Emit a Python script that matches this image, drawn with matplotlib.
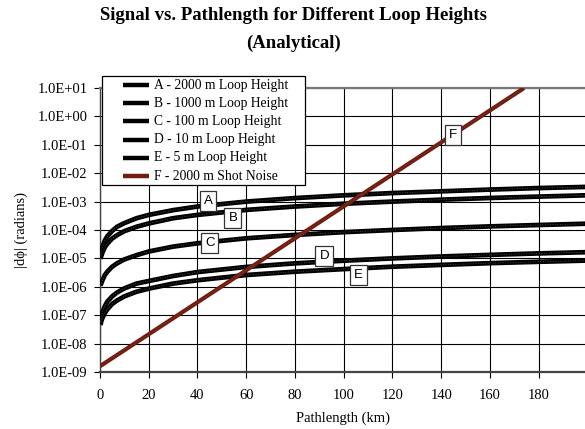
import matplotlib
matplotlib.use("Agg")
import matplotlib.pyplot as plt
from matplotlib.patches import Rectangle
from matplotlib.lines import Line2D
from matplotlib.ticker import FixedLocator, FuncFormatter, NullLocator

# pathlength (km) sample points
path_km = [0.2, 0.5, 1, 2, 3, 5, 7, 10, 15, 20, 30, 40, 60, 80, 100, 120, 140, 160, 180, 200]

loop_a = [1.3e-5, 1.8e-5, 2.6e-5, 4.3e-5, 6.0e-5, 9.3e-5, 1.3e-4, 1.75e-4, 2.6e-4, 3.4e-4,
          5.0e-4, 6.7e-4, 1.0e-3, 1.33e-3, 1.66e-3, 2.0e-3, 2.3e-3, 2.65e-3, 3.0e-3, 3.3e-3]
loop_b = [9.7e-6, 1.2e-5, 1.6e-5, 2.5e-5, 3.3e-5, 5.0e-5, 6.6e-5, 9.1e-5, 1.3e-4, 1.7e-4,
          2.6e-4, 3.4e-4, 5.1e-4, 6.7e-4, 8.4e-4, 1.0e-3, 1.17e-3, 1.34e-3, 1.5e-3, 1.67e-3]
loop_c = [1.1e-6, 1.3e-6, 1.7e-6, 2.6e-6, 3.4e-6, 5.1e-6, 6.7e-6, 9.2e-6, 1.3e-5, 1.75e-5,
          2.6e-5, 3.4e-5, 5.1e-5, 6.7e-5, 8.4e-5, 1.0e-4, 1.17e-4, 1.34e-4, 1.5e-4, 1.67e-4]
loop_d = [6.0e-8, 8.5e-8, 1.3e-7, 2.1e-7, 3.0e-7, 4.6e-7, 6.3e-7, 8.8e-7, 1.3e-6, 1.6e-6,
          2.4e-6, 3.3e-6, 5.0e-6, 6.7e-6, 8.3e-6, 1.0e-5, 1.17e-5, 1.33e-5, 1.5e-5, 1.66e-5]
loop_e = [4.5e-8, 6.0e-8, 8.0e-8, 1.2e-7, 1.6e-7, 2.5e-7, 3.3e-7, 4.6e-7, 6.7e-7, 8.6e-7,
          1.3e-6, 1.7e-6, 2.6e-6, 3.4e-6, 4.2e-6, 5.1e-6, 5.9e-6, 6.8e-6, 7.6e-6, 8.4e-6]

shot_km = [0, 174]
shot_noise = [1.6e-9, 1.0e1]

labels = ["A - 2000 m Loop Height", "B - 1000 m Loop Height", "C - 100 m Loop Height",
          "D - 10 m Loop Height", "E - 5 m Loop Height", "F - 2000 m Shot Noise"]

# tag boxes (letter, x km, y)
tags = [("A", 44.3, 1.05e-3), ("B", 54.5, 2.6e-4), ("C", 45, 3.5e-5),
        ("D", 92, 1.2e-5), ("E", 106, 2.6e-6), ("F", 145, 0.22)]

xticks = [0, 20, 40, 60, 80, 100, 120, 140, 160, 180]
yticks = [1e-9, 1e-8, 1e-7, 1e-6, 1e-5, 1e-4, 1e-3, 1e-2, 1e-1, 1e0, 1e1]

plt.rcParams["font.family"] = ["Liberation Serif", "DejaVu Serif"]

W, H = 585, 429
fig = plt.figure(figsize=(W / 100, H / 100), dpi=100)
ax = fig.add_axes([100 / W, 57 / H, 485 / W, 284 / H])

black = "#000000"
brown = "#701c10"
series = [loop_a, loop_b, loop_c, loop_d, loop_e]

for ys in series:
    ax.plot(path_km, ys, color=black, lw=3.4, solid_capstyle="butt", zorder=3)
    ax.plot(path_km, ys, color="#5a5a5a", lw=0.6, ls=(0, (1, 2)), zorder=3.1)
ax.plot(shot_km, shot_noise, color=brown, lw=3.0, solid_capstyle="butt", zorder=3)
ax.plot(shot_km, shot_noise, color="#944535", lw=0.5, ls=(0, (1, 2)), zorder=3.1)

for letter, tx, ty in tags:
    ax.text(tx, ty, letter, fontsize=9.5, family=["Liberation Sans", "DejaVu Sans"],
            ha="center", va="center", zorder=5,
            bbox=dict(boxstyle="square,pad=0.3", fc="white", ec="#333333", lw=0.9))

ax.set_yscale("log")
ax.set_xlim(0, 199)
ax.set_ylim(1e-9, 1e1)
ax.xaxis.set_major_locator(FixedLocator(xticks))
ax.yaxis.set_major_locator(FixedLocator(yticks))
ax.yaxis.set_minor_locator(NullLocator())
ax.yaxis.set_major_formatter(FuncFormatter(lambda v, p: f"{v:.1E}"))
ax.grid(True, color=black, lw=0.8)
ax.set_axisbelow(True)
ax.tick_params(direction="out", length=4, width=0.8, labelsize=10.5)
ax.tick_params(axis="x", pad=8)
ax.tick_params(axis="y", pad=5)

ax.spines["right"].set_visible(False)
ax.spines["top"].set_color("#777777")
ax.spines["left"].set_color("#444444")
ax.spines["bottom"].set_color("#444444")
ax.spines["bottom"].set_linewidth(1.6)
ax.spines["left"].set_linewidth(1.0)
ax.spines["top"].set_linewidth(1.6)

ax.set_xlabel("Pathlength (km)", fontsize=10.5, labelpad=7)
ax.set_ylabel("|d\u03d5| (radians)", fontsize=10.5, labelpad=7)

fig.text(0.502, 1 - 15 / H, "Signal vs. Pathlength for Different Loop Heights",
         ha="center", va="center", fontsize=13.5, fontweight="bold")
fig.text(0.502, 1 - 43 / H, "(Analytical)",
         ha="center", va="center", fontsize=13.5, fontweight="bold")

# legend box drawn by hand to match the original layout
fig.patches.append(Rectangle((102 / W, 1 - 185 / H), 203 / W, 109 / H, transform=fig.transFigure,
                             fc="white", ec=black, lw=0.9, zorder=10))
leg_colors = [black] * 5 + [brown]
for i, (lab, col) in enumerate(zip(labels, leg_colors)):
    yy = 1 - (85 + i * 18.2) / H
    fig.lines.append(Line2D([123 / W, 149 / W], [yy, yy], transform=fig.transFigure,
                            color=col, lw=3.2, solid_capstyle="butt", zorder=11))
    fig.text(154 / W, yy, lab, ha="left", va="center", fontsize=9.8, zorder=11)

fig.savefig("out.png", dpi=100)
